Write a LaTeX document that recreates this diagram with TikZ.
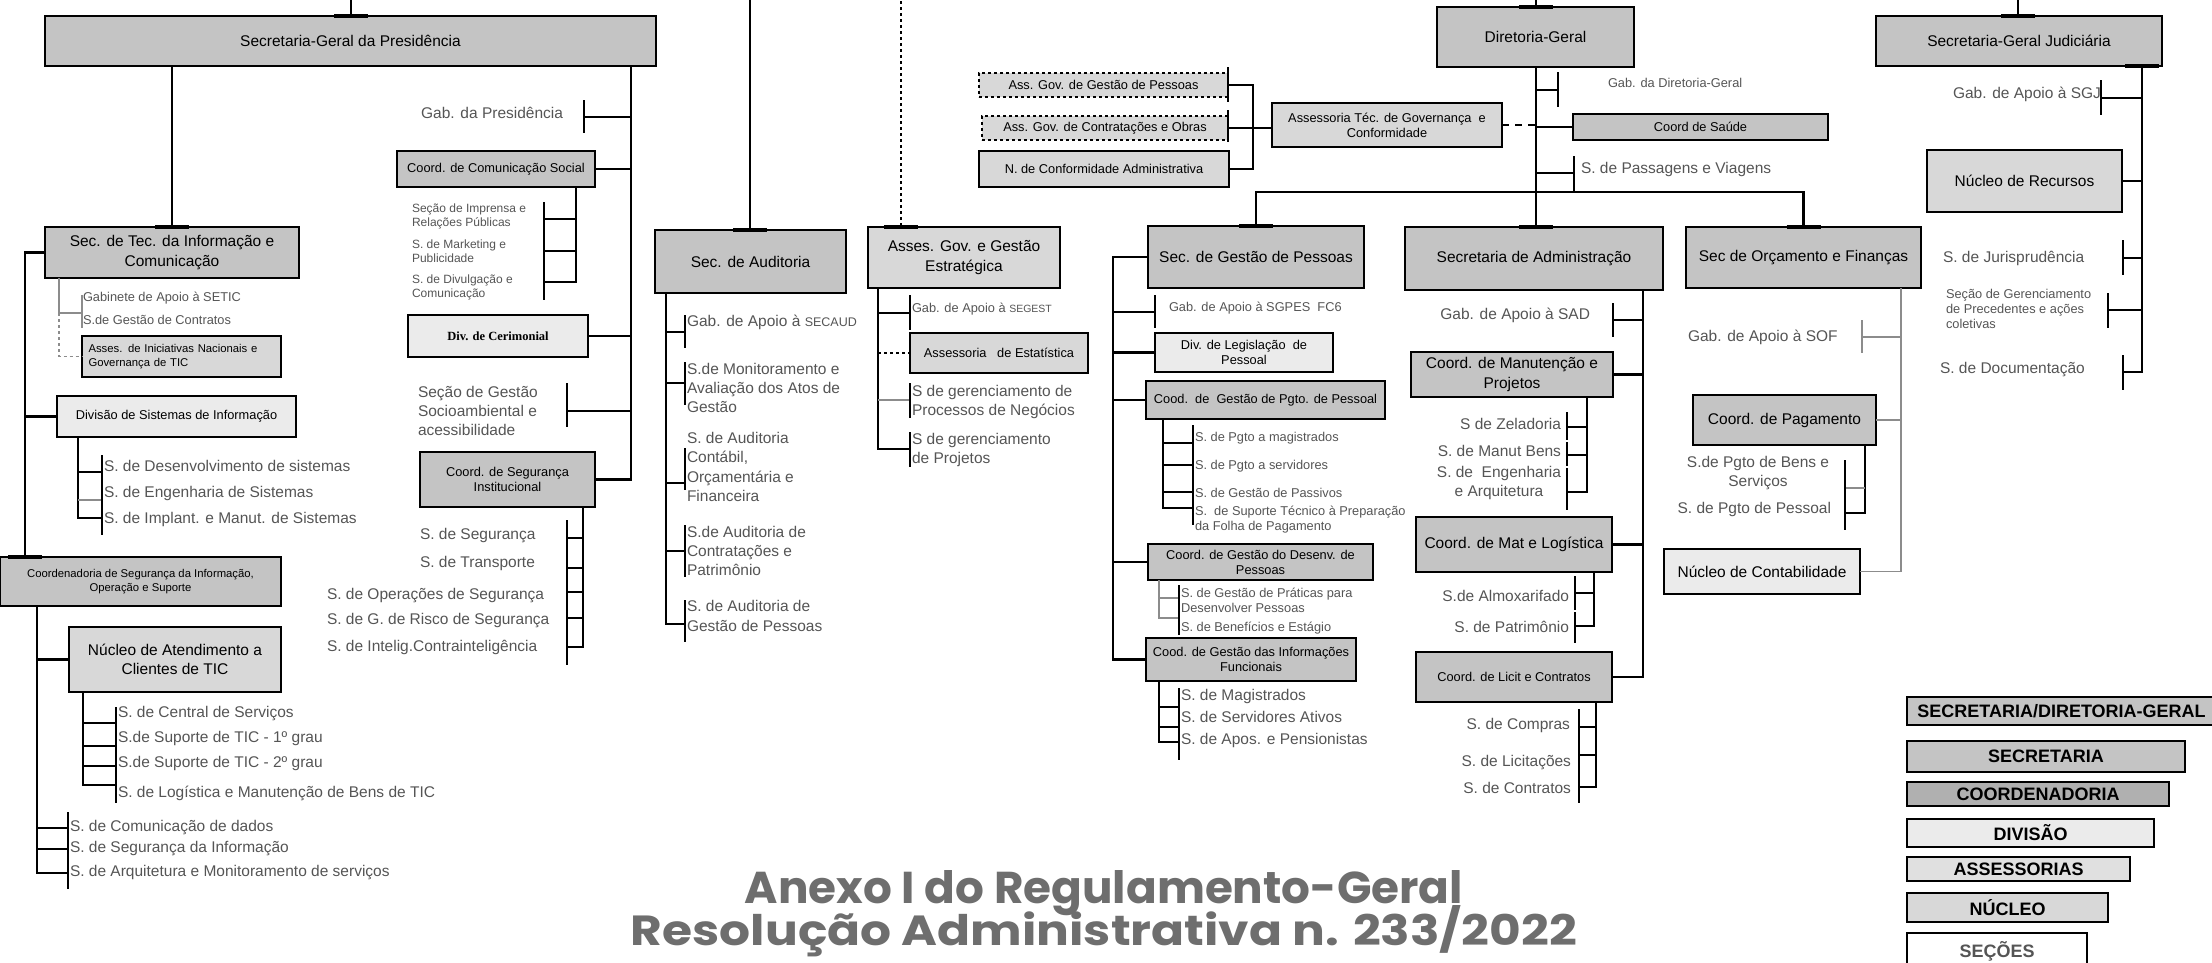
\documentclass[tikz,border=0pt]{standalone}
\usepackage{fontspec}
\setmainfont{Liberation Sans}
\newfontfamily\serifb{Liberation Serif}
\newfontfamily\titlefont{Poppins}
\usepackage{graphicx}
\definecolor{bxdark}{HTML}{C4C4C4}
\definecolor{bxmid}{HTML}{D8D8D8}
\definecolor{bxlight}{HTML}{EBEBEB}
\definecolor{secgray}{HTML}{555555}
\definecolor{lgray}{HTML}{8C8C8C}
\definecolor{ttlgray}{HTML}{6E6E6E}
\newcommand\bx[7]{\node[#6, minimum width={(#4)-(#2)}, minimum height={(#5)-(#3)}] (#1) at ({((#2)+(#4))/2},{((#3)+(#5))/2}) {#7};}
\newcommand\fbig{\fontsize{15.5}{19.2}\selectfont}
\newcommand\fsm{\fontsize{12.8}{15}\selectfont}
\tikzset{
 box/.style={draw=black, line width=2.2pt, inner sep=2pt, outer sep=0pt, align=center, text=black},
 bdark/.style={box, fill=bxdark},
 bmid/.style={box, fill=bxmid},
 blight/.style={box, fill=bxlight},
 bdash/.style={box, fill=bxmid, dashed, line width=1.3pt},
 big/.style={font=\fbig},
 sm/.style={font=\fsm},
 lab/.style={inner sep=0pt, outer sep=0pt, text=secgray, font=\fbig, align=left},
 labs/.style={lab, font=\fsm},
 lw/.style={anchor=west},
 le/.style={anchor=east},
 ln/.style={line width=2.4pt},
 mln/.style={line width=1.4pt},
 tn/.style={line width=1.1pt, draw=lgray},
 tbar/.style={line width=4.5pt},
 legend/.style={box, font=\bfseries\fontsize{18}{20}\selectfont},
}
\newcommand\tcap[1]{\draw[tbar] ([xshift=-17pt]#1) -- ([xshift=17pt]#1);}
\begin{document}
\begin{tikzpicture}[x=1pt,y=-1pt]
\useasboundingbox[fill=white] (0,0) rectangle (2212,962);

% ---------- top level ----------
\bx{sgp}{45}{16}{656}{66}{bdark,big}{Secretaria-Geral da Presidência}
\bx{dg}{1437}{7}{1634}{67}{bdark,big}{Diretoria-Geral}
\bx{sgj}{1876}{16}{2162}{66}{bdark,big}{Secretaria-Geral Judiciária}
\coordinate (t1) at (351,-5);
\coordinate (t2) at (750,-5);
\coordinate (t3) at (901,-5);
\coordinate (t4) at (1536,-5);
\coordinate (t5) at (2018,-5);
\draw[ln] (t1) -- (sgp.north -| t1); \tcap{sgp.north -| t1}
\draw[ln] (t4) -- (dg.north -| t4); \tcap{dg.north -| t4}
\draw[ln] (t5) -- (sgj.north -| t5); \tcap{sgj.north -| t5}

% ---------- SETIC ----------
\bx{setic}{45}{227}{299}{278}{bdark,big}{Sec. de Tec. da Informação e\\Comunicação}
\bx{asin}{82}{336}{281}{377}{bmid,font=\fontsize{11.3}{14}\selectfont,align=left,text width=186pt}{Asses. de Iniciativas Nacionais e\\Governança de TIC}
\bx{dsi}{57}{396}{296}{437}{blight,sm}{Divisão de Sistemas de Informação}
\bx{csios}{0}{557}{281}{606}{bdark,font=\fontsize{11.3}{14}\selectfont}{Coordenadoria de Segurança da Informação,\\Operação e Suporte}
\bx{nac}{69}{627}{281}{692}{bmid,big}{Núcleo de Atendimento a\\Clientes de TIC}

\draw[ln] (sgp.south -| setic.north) -- (setic.north); \tcap{setic.north}
\coordinate (lbx) at (25,0);
\draw[ln] (setic.west) -| (csios.north -| lbx); \tcap{csios.north -| lbx}
\draw[ln] (dsi.west) -- (dsi.west -| lbx);

\coordinate (gx) at (59,313);
\draw[tn] (setic.south -| gx) |- (82,313);
\draw[tn] (82,295) -- (82,328);
\draw[tn,dashed] (gx) |- (asin.west);
\node[labs,lw] (gab1) at (83,298) {Gabinete de Apoio à SETIC};
\node[labs,lw] (gab2) at (83,320) {S.de Gestão de Contratos};

\coordinate (dx) at (78,518);
\draw[mln] (dsi.south -| dx) -- (dx) -- (102,518);
\draw[mln] (78,472) -- (102,472);
\draw[tn] (78,500) -- (102,500);
\draw[mln] (102,455) -- (102,535);
\node[lab,lw] (dsi1) at (104,466) {S. de Desenvolvimento de sistemas};
\node[lab,lw] (dsi2) at (104,493) {S. de Engenharia de Sistemas};
\node[lab,lw] (dsi3) at (104,519) {S. de Implant. e Manut. de Sistemas};

\coordinate (cx) at (37,873);
\draw[ln] (csios.south -| cx) -- (cx) -- (68,873);
\draw[ln] (nac.west -| cx) -- (nac.west);
\draw[ln] (37,828) -- (68,828);
\draw[ln] (37,849) -- (68,849);
\draw[ln] (68,812) -- (68,889);
\node[lab,lw] (cs1) at (70,828) {S. de Comunicação de dados};
\node[lab,lw] (cs2) at (70,849) {S. de Segurança da Informação};
\node[lab,lw] (cs3) at (70,873) {S. de Arquitetura e Monitoramento de serviços};

\coordinate (nx) at (83,785);
\draw[ln] (nac.south -| nx) -- (nx) -- (116,785);
\draw[ln] (83,723) -- (116,723);
\draw[ln] (83,746) -- (116,746);
\draw[ln] (83,766) -- (116,766);
\draw[ln] (116,707) -- (116,803);
\node[lab,lw] (n1) at (118,714) {S. de Central de Serviços};
\node[lab,lw] (n2) at (118,738) {S.de Suporte de TIC - 1º grau};
\node[lab,lw] (n3) at (118,763) {S.de Suporte de TIC - 2º grau};
\node[lab,lw] (n4) at (118,793) {S. de Logística e Manutenção de Bens de TIC};

% ---------- SGP right column ----------
\bx{ccs}{397}{151}{595}{187}{bdark,sm}{Coord. de Comunicação Social}
\bx{dcer}{408}{315}{588}{357}{blight,font=\serifb\bfseries\fontsize{12.5}{14}\selectfont}{Div. de Cerimonial}
\bx{csi}{420}{452}{595}{507}{bdark,sm}{Coord. de Segurança\\Institucional}
\coordinate (rbx) at (631,0);
\draw[ln] (sgp.south -| rbx) |- (csi.east);
\draw[ln] (ccs.east) -- (ccs.east -| rbx);
\draw[ln] (dcer.east) -- (dcer.east -| rbx);
\node[lab,le] (gabp) at (563,113) {Gab. da Presidência};
\draw[ln] (631,117) -- (584,117);
\draw[ln] (584,100) -- (584,133);
\node[lab,lw] (socio) at (418,411) {Seção de Gestão\\Socioambiental e\\acessibilidade};
\draw[ln] (631,411) -- (567,411);
\draw[ln] (567,383) -- (567,427);

\coordinate (ccx) at (576,282);
\draw[ln] (ccs.south -| ccx) -- (ccx) -- (544,282);
\draw[ln] (576,219) -- (544,219);
\draw[ln] (576,251) -- (544,251);
\draw[ln] (544,202) -- (544,300);
\node[lab,lw,font=\fontsize{12}{14}\selectfont] (cc1) at (412,216) {Seção de Imprensa e\\Relações Públicas};
\node[lab,lw,font=\fontsize{12}{14}\selectfont] (cc2) at (412,251) {S. de Marketing e\\Publicidade};
\node[lab,lw,font=\fontsize{12}{14}\selectfont] (cc3) at (412,287) {S. de Divulgação e\\Comunicação};

\coordinate (six) at (583,647);
\draw[ln] (csi.south -| six) -- (six) -- (567,647);
\foreach \yy in {538,568,592,618} {\draw[ln] (583,\yy) -- (567,\yy);}
\draw[ln] (567,520) -- (567,665);
\node[lab,lw] (si1) at (420,536) {S. de Segurança};
\node[lab,lw] (si2) at (420,563) {S. de Transporte};
\node[lab,lw] (si3) at (327,596) {S. de Operações de Segurança};
\node[lab,lw] (si4) at (327,621) {S. de G. de Risco de Segurança};
\node[lab,lw] (si5) at (327,647) {S. de Intelig.Contrainteligência};

% ---------- Auditoria ----------
\bx{secaud}{655}{230}{846}{293}{bdark,big}{Sec. de Auditoria}
\draw[ln] (t2) -- (secaud.north -| t2); \tcap{secaud.north -| t2}
\coordinate (aux) at (666,624);
\draw[ln] (secaud.south -| aux) -- (aux) -- (685,624);
\foreach \yy in {332,383,483,551} {\draw[ln] (666,\yy) -- (685,\yy);}
\draw[ln] (685,315) -- (685,348);
\draw[ln] (685,362) -- (685,405);
\draw[ln] (685,448) -- (685,490);
\draw[ln] (685,525) -- (685,577);
\draw[ln] (685,600) -- (685,642);
\node[lab,lw] (au1) at (687,322) {Gab. de Apoio à {\fontsize{12.5}{15}\selectfont SECAUD}};
\node[lab,lw] (au2) at (687,388) {S.de Monitoramento e\\Avaliação dos Atos de\\Gestão};
\node[lab,lw] (au3) at (687,467) {S. de Auditoria\\Contábil,\\Orçamentária e\\Financeira};
\node[lab,lw] (au4) at (687,551) {S.de Auditoria de\\Contratações e\\Patrimônio};
\node[lab,lw] (au5) at (687,616) {S. de Auditoria de\\Gestão de Pessoas};

% ---------- Asses. Gov. e Gestao Estrategica ----------
\bx{agge}{868}{227}{1060}{288}{bmid,big}{Asses. Gov. e Gestão\\Estratégica}
\bx{aest}{910}{333}{1088}{373}{bmid,sm}{Assessoria\ \ \ de Estatística}
\draw[mln,dashed] (t3) -- (agge.north -| t3); \tcap{agge.north -| t3}
\coordinate (ax) at (878,449);
\draw[mln] (agge.south -| ax) -- (ax) -- (910,449);
\draw[mln] (878,313) -- (910,313);
\draw[tn,dashed,draw=black] (aest.west -| ax) -- (aest.west);
\draw[tn] (878,400) -- (910,400);
\draw[mln] (910,295) -- (910,330);
\draw[mln] (910,383) -- (910,418);
\draw[mln] (910,432) -- (910,467);
\node[labs,lw] (ag1) at (912,309) {Gab. de Apoio à {\fontsize{10.5}{12}\selectfont SEGEST}};
\node[lab,lw] (ag2) at (912,402) {S de gerenciamento de\\Processos de Negócios};
\node[lab,lw] (ag3) at (912,450) {S de gerenciamento\\de Projetos};

% ---------- Assessorias de governanca ----------
\bx{agp}{979}{73}{1228}{97}{bdash,sm}{Ass. Gov. de Gestão de Pessoas}
\bx{agco}{982}{116}{1228}{140}{bdash,sm}{Ass. Gov. de Contratações e Obras}
\bx{nca}{979}{151}{1229}{187}{bmid,sm}{N. de Conformidade Administrativa}
\bx{atgc}{1272}{103}{1502}{147}{bmid,sm}{Assessoria Téc. de Governança\ \ e\\Conformidade}
\draw[ln] ([yshift=6pt]agp.north east) -- ([yshift=-5pt]agp.south east);
\draw[ln] ([yshift=6pt]agco.north east) -- ([yshift=-2pt]agco.south east);
\coordinate (gbx) at (1253,0);
\draw[ln] (agp.east) -| (nca.east -| gbx) -- (nca.east);
\draw[ln] (agco.east) -- (agco.east -| atgc.west);

% ---------- Diretoria-Geral ----------
\bx{csaude}{1573}{114}{1828}{140}{bdark,sm}{Coord de Saúde}
\coordinate (dgx) at (1536,0);
\draw[ln] (dg.south -| dgx) -- (dgx |- csaude.west);
\draw[ln] (dgx |- csaude.west) -- (csaude.west);
\draw[ln,dash pattern=on 7pt off 6pt] (atgc.east) -- (atgc.east -| dgx);
\node[labs,lw] (gdg) at (1608,83) {Gab. da Diretoria-Geral};
\draw[mln] (1536,90) -- (1558,90);
\draw[mln] (1558,72) -- (1558,107);
\node[lab,lw] (spv) at (1581,169) {S. de Passagens e Viagens};
\draw[ln] (1536,173) -- (1574,173);
\draw[ln] (1574,156) -- (1574,192);

\bx{sgpes}{1148}{226}{1364}{288}{bdark,big}{Sec. de Gestão de Pessoas}
\bx{sad}{1405}{227}{1663}{290}{bdark,big}{Secretaria de Administração}
\bx{sof}{1686}{227}{1921}{288}{bdark,big}{Sec de Orçamento e Finanças}
\coordinate (busy) at (0,192);
\draw[ln] (sgpes.north) |- (sof.north |- busy) -- (sof.north);
\draw[ln] (dgx |- csaude.west) -- (sad.north -| dgx);
\tcap{sgpes.north} \tcap{sad.north -| dgx} \tcap{sof.north}

% ---------- SGPES ----------
\bx{dlp}{1155}{333}{1333}{372}{blight,sm}{Div. de Legislação\ \ de\\Pessoal}
\bx{cgpp}{1146}{381}{1385}{419}{bdark,sm}{Cood.\ \ de\ \ Gestão de Pgto. de Pessoal}
\bx{cgdp}{1148}{544}{1373}{580}{bdark,sm}{Coord. de Gestão do Desenv. de\\Pessoas}
\bx{cgif}{1146}{638}{1356}{681}{bdark,sm}{Cood. de Gestão das Informações\\Funcionais}
\coordinate (plx) at (1113,0);
\draw[ln] (sgpes.west) -| (cgif.west -| plx) -- (cgif.west);
\draw[ln] (dlp.west -| plx) -- (dlp.west);
\draw[ln] (cgpp.west -| plx) -- (cgpp.west);
\draw[ln] (cgdp.west -| plx) -- (cgdp.west);
\draw[tn,draw=black] (1113,312) -- (1155,312);
\draw[tn,draw=black] (1155,295) -- (1155,328);
\node[labs,lw] (gsp) at (1169,308) {Gab. de Apoio à SGPES\ \ FC6};

\coordinate (pgx) at (1163,508);
\draw[ln] (cgpp.south -| pgx) -- (pgx) -- (1193,508);
\foreach \yy in {443,465,492} {\draw[ln] (1163,\yy) -- (1193,\yy);}
\draw[mln] (1193,425) -- (1193,525);
\node[labs,lw] (pg1) at (1195,438) {S. de Pgto a magistrados};
\node[labs,lw] (pg2) at (1195,466) {S. de Pgto a servidores};
\node[labs,lw] (pg3) at (1195,493) {S. de Gestão de Passivos};
\node[labs,lw] (pg4) at (1195,520) {S.\ \ de Suporte Técnico à Preparação\\da Folha de Pagamento};

\coordinate (dpx) at (1159,618);
\draw[tn] (cgdp.south -| dpx) -- (dpx) -- (1179,618);
\draw[tn] (1159,598) -- (1179,598);
\draw[tn,draw=black] (1179,585) -- (1179,635);
\node[labs,lw] (dp1) at (1181,600) {S. de Gestão de Práticas para\\Desenvolver Pessoas};
\node[labs,lw] (dp2) at (1181,628) {S. de Benefícios e Estágio};

\coordinate (ifx) at (1159,742);
\draw[ln] (cgif.south -| ifx) -- (ifx) -- (1179,742);
\draw[ln] (1159,707) -- (1179,707);
\draw[ln] (1159,727) -- (1179,727);
\draw[ln] (1179,688) -- (1179,760);
\node[lab,lw] (if1) at (1181,696) {S. de Magistrados};
\node[lab,lw] (if2) at (1181,717) {S. de Servidores Ativos};
\node[lab,lw] (if3) at (1181,740) {S. de Apos. e Pensionistas};

% ---------- SAD ----------
\bx{cmp}{1411}{352}{1613}{397}{bdark,big}{Coord. de Manutenção e\\Projetos}
\bx{cml}{1416}{517}{1612}{572}{bdark,big}{Coord. de Mat e Logística}
\bx{clc}{1416}{652}{1612}{702}{bdark,sm}{Coord. de Licit e Contratos}
\coordinate (sax) at (1643,0);
\draw[ln] (sad.south -| sax) |- (clc.east);
\draw[ln] (cmp.east) -- (cmp.east -| sax);
\draw[ln] (cml.east) -- (cml.east -| sax);
\node[lab,le] (gsad) at (1590,315) {Gab. de Apoio à SAD};
\draw[ln] (1643,320) -- (1613,320);
\draw[ln] (1613,303) -- (1613,337);

\coordinate (mpx) at (1587,492);
\draw[ln] (cmp.south -| mpx) -- (mpx) -- (1567,492);
\draw[ln] (1587,427) -- (1567,427);
\draw[ln] (1587,455) -- (1567,455);
\draw[mln] (1567,412) -- (1567,440);
\draw[mln] (1567,442) -- (1567,466);
\draw[mln] (1567,468) -- (1567,510);
\node[lab,le] (mp1) at (1561,424) {S de Zeladoria};
\node[lab,le] (mp2) at (1561,451) {S. de Manut Bens};
\node[lab,le,align=center] (mp3) at (1561,483) {S. de\ \ Engenharia\\e Arquitetura};

\coordinate (mlx) at (1594,626);
\draw[ln] (cml.south -| mlx) -- (mlx) -- (1575,626);
\draw[ln] (1594,593) -- (1575,593);
\draw[mln] (1575,576) -- (1575,610);
\draw[mln] (1575,612) -- (1575,643);
\node[lab,le] (ml1) at (1569,596) {S.de Almoxarifado};
\node[lab,le] (ml2) at (1569,627) {S. de Patrimônio};

\coordinate (lcx) at (1596,787);
\draw[ln] (clc.south -| lcx) -- (lcx) -- (1579,787);
\draw[ln] (1596,727) -- (1579,727);
\draw[ln] (1596,755) -- (1579,755);
\draw[mln] (1579,709) -- (1579,745);
\draw[mln] (1579,745) -- (1579,772);
\draw[mln] (1579,772) -- (1579,803);
\node[lab,le] (lc1) at (1570,725) {S. de Compras};
\node[lab,le] (lc2) at (1571,763) {S. de Licitações};
\node[lab,le] (lc3) at (1571,788) {S. de Contratos};

% ---------- SOF ----------
\bx{cpag}{1693}{395}{1876}{445}{bdark,big}{Coord. de Pagamento}
\bx{ncont}{1664}{549}{1860}{594}{blight,big}{Núcleo de Contabilidade}
\coordinate (sfx) at (1901,0);
\draw[tn] (sof.south -| sfx) |- (ncont.east);
\draw[tn] (cpag.east) -- (cpag.east -| sfx);
\node[lab,lw] (gsof) at (1688,337) {Gab. de Apoio à SOF};
\draw[tn] (1901,337) -- (1862,337);
\draw[tn] (1862,320) -- (1862,353);
\coordinate (cpx) at (1865,513);
\draw[mln] (cpag.south -| cpx) -- (cpx) -- (1845,513);
\draw[tn] (1865,488) -- (1845,488);
\draw[mln] (1845,460) -- (1845,530);
\node[lab,align=center] (cp1) at (1758,473) {S.de Pgto de Bens e\\Serviços};
\node[lab,le] (cp2) at (1831,509) {S. de Pgto de Pessoal};

% ---------- SGJ ----------
\bx{nrec}{1927}{150}{2122}{212}{bmid,big}{Núcleo de Recursos}
\coordinate (jx) at (2142,372);
\draw[ln] (sgj.south -| jx) -- (jx) -- (2123,372);
\tcap{sgj.south -| jx}
\draw[tn,draw=black] (nrec.east) -- (nrec.east -| jx);
\node[lab,lw] (gsgj) at (1953,94) {Gab. de Apoio à SGJ};
\draw[ln] (2142,98) -- (2101,98);
\draw[ln] (2101,80) -- (2101,115);
\node[lab,lw] (sj1) at (1943,258) {S. de Jurisprudência};
\draw[ln] (2142,258) -- (2123,258);
\draw[ln] (2123,240) -- (2123,275);
\node[labs,lw] (sj2) at (1946,309) {Seção de Gerenciamento\\de Precedentes e ações\\coletivas};
\draw[ln] (2142,310) -- (2108,310);
\draw[ln] (2108,293) -- (2108,328);
\node[lab,lw] (sj3) at (1940,370) {S. de Documentação};
\draw[ln] (2123,355) -- (2123,390);

% ---------- legend ----------
\bx{lg1}{1907}{697}{2216}{725}{legend,fill=bxdark}{SECRETARIA/DIRETORIA-GERAL}
\bx{lg2}{1907}{741}{2185}{772}{legend,fill=bxdark}{SECRETARIA}
\bx{lg3}{1907}{782}{2169}{806}{legend,fill=bxdark!90!black}{COORDENADORIA}
\bx{lg4}{1907}{819}{2154}{847}{legend,fill=bxlight}{DIVISÃO}
\bx{lg5}{1907}{857}{2130}{881}{legend,fill=bxmid!80!white}{ASSESSORIAS}
\bx{lg6}{1907}{893}{2108}{922}{legend,fill=bxmid}{NÚCLEO}
\bx{lg7}{1907}{933}{2087}{970}{legend,fill=white,text=secgray}{SEÇÕES}

% ---------- title ----------
\node[anchor=base,text=ttlgray,inner sep=0pt] (ttl1) at (1104,903) {\resizebox{718pt}{33pt}{\titlefont\bfseries Anexo I do Regulamento-Geral}};
\node[anchor=base,text=ttlgray,inner sep=0pt] (ttl2) at (1104,945) {\resizebox{946pt}{40pt}{\titlefont\bfseries Resolução Administrativa n. 233/2022}};
\end{tikzpicture}
\end{document}
